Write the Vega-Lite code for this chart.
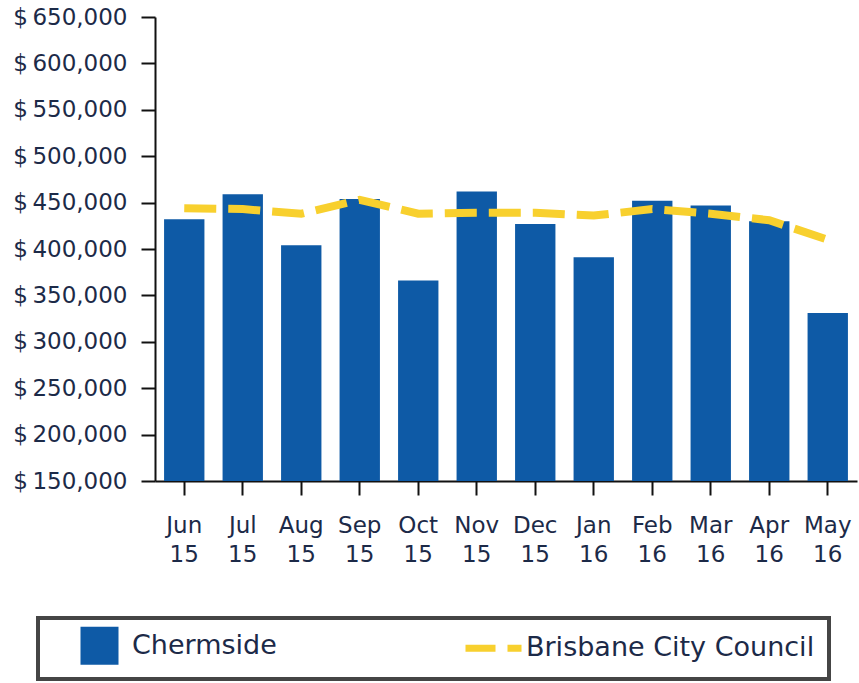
{
  "$schema": "https://vega.github.io/schema/vega-lite/v6.json",
  "width": 702,
  "height": 464,
  "autosize": {"type": "none"},
  "padding": {"left": 155, "top": 17, "right": 2, "bottom": 202},
  "background": "white",
  "data": {
    "values": [
      {"month": "Jun 15", "chermside": 432000, "bcc": 444000},
      {"month": "Jul 15", "chermside": 459000, "bcc": 443000},
      {"month": "Aug 15", "chermside": 404000, "bcc": 438000},
      {"month": "Sep 15", "chermside": 454000, "bcc": 453000},
      {"month": "Oct 15", "chermside": 366000, "bcc": 438000},
      {"month": "Nov 15", "chermside": 462000, "bcc": 439000},
      {"month": "Dec 15", "chermside": 427000, "bcc": 439000},
      {"month": "Jan 16", "chermside": 391000, "bcc": 436000},
      {"month": "Feb 16", "chermside": 452000, "bcc": 443000},
      {"month": "Mar 16", "chermside": 447000, "bcc": 438000},
      {"month": "Apr 16", "chermside": 430000, "bcc": 431000},
      {"month": "May 16", "chermside": 331000, "bcc": 410000}
    ]
  },
  "config": {"view": {"stroke": null}},
  "encoding": {
    "x": {
      "field": "month",
      "type": "nominal",
      "sort": null,
      "scale": {"paddingInner": 0.31, "paddingOuter": 0.155},
      "axis": {
        "title": null,
        "labelAngle": 0,
        "labelExpr": "split(datum.label, ' ')",
        "labelFont": "DejaVu Sans",
        "labelFontSize": 23,
        "labelLineHeight": 29,
        "labelColor": "#1c2a48",
        "labelPadding": 19,
        "tickSize": 14,
        "tickWidth": 2,
        "tickColor": "#111111",
        "domainColor": "#111111",
        "domainWidth": 2
      }
    }
  },
  "layer": [
    {
      "mark": {"type": "bar", "clip": true},
      "encoding": {
        "y": {
          "field": "chermside",
          "type": "quantitative",
          "scale": {"domain": [150000, 650000], "nice": false, "zero": false},
          "axis": {
            "title": null,
            "values": [150000, 200000, 250000, 300000, 350000, 400000, 450000, 500000, 550000, 600000, 650000],
            "labelExpr": "'$\u2009' + format(datum.value, ',')",
            "labelFont": "DejaVu Sans",
            "labelFontSize": 23,
            "labelColor": "#1c2a48",
            "labelPadding": 14,
            "tickSize": 14,
            "tickWidth": 2,
            "tickColor": "#111111",
            "domainColor": "#111111",
            "domainWidth": 2,
            "grid": false
          }
        },
        "color": {
          "datum": "Chermside",
          "type": "nominal",
          "scale": {"domain": ["Chermside", "Brisbane City Council"], "range": ["#0e5aa6", "#f8d02e"]},
          "legend": {
            "title": null,
            "orient": "none",
            "legendX": -117,
            "legendY": 601,
            "direction": "horizontal",
            "columns": 2,
            "columnPadding": 169,
            "padding": 14,
            "symbolOffset": 34,
            "strokeColor": "#454545",
            "fillColor": "white",
            "labelFont": "DejaVu Sans",
            "labelFontSize": 27,
            "labelColor": "#1c2a48",
            "labelOffset": 19,
            "symbolSize": 1444,
            "labelLimit": 400,
            "encode": {
              "legend": {"update": {"strokeWidth": {"value": 4}}},
              "symbols": {
                "update": {
                  "shape": {"signal": "datum.value === 'Chermside' ? 'square' : 'stroke'"},
                  "fill": {"signal": "datum.value === 'Chermside' ? '#0e5aa6' : 'transparent'"},
                  "stroke": {"signal": "datum.value === 'Chermside' ? '#0e5aa6' : '#f8d02e'"},
                  "strokeWidth": {"signal": "datum.value === 'Chermside' ? 0 : 7"},
                  "strokeDash": {"signal": "datum.value === 'Chermside' ? [] : [30, 12, 14, 100]"},
                  "size": {"signal": "datum.value === 'Chermside' ? 1444 : 3136"}
                }
              }
            }
          }
        }
      }
    },
    {
      "mark": {"type": "line", "strokeWidth": 8, "strokeDash": [32, 12], "strokeCap": "butt", "interpolate": "linear"},
      "encoding": {
        "y": {"field": "bcc", "type": "quantitative"},
        "color": {"datum": "Brisbane City Council", "type": "nominal"}
      }
    }
  ]
}
